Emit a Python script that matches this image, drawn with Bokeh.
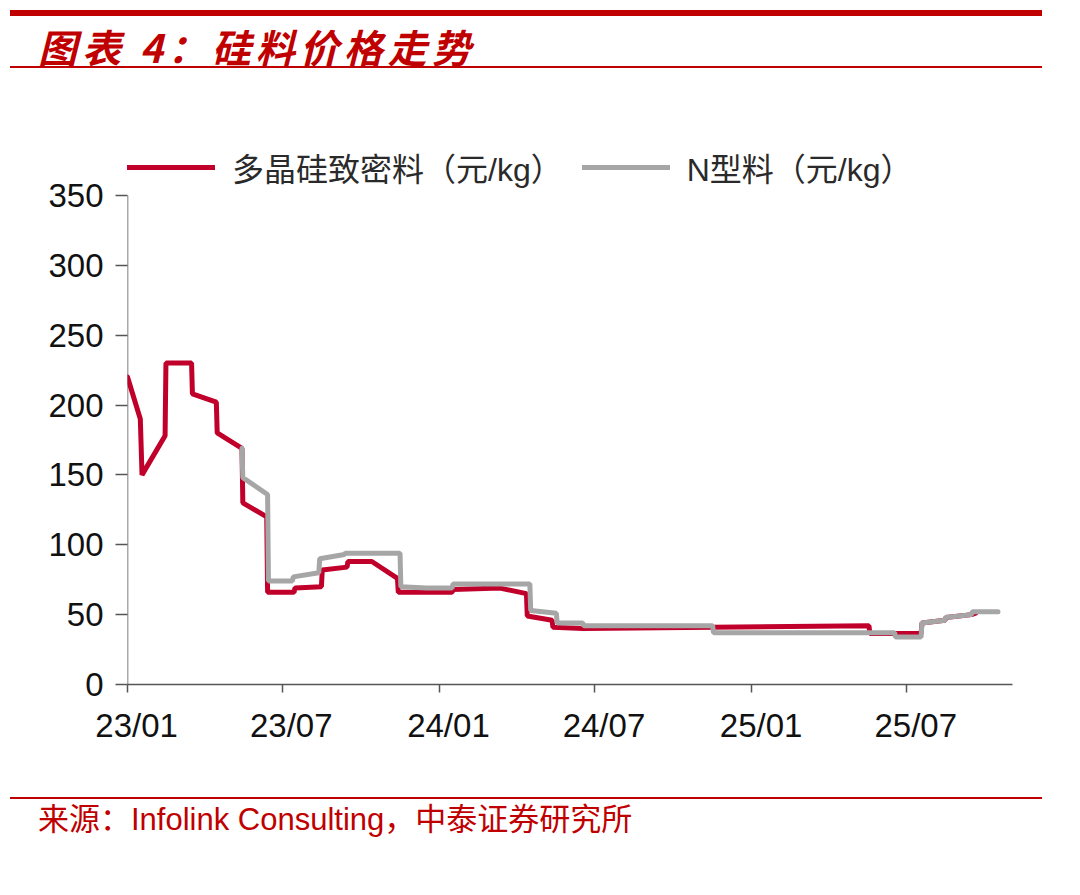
from datetime import datetime

import pandas as pd
from bokeh.embed import file_html
from bokeh.layouts import column
from bokeh.models import (ColumnDataSource, DatetimeTickFormatter, Div, FixedTicker,
                          Legend, LegendItem, Range1d)
from bokeh.plotting import figure
from bokeh.resources import INLINE

# 多晶硅致密料 (元/kg)
red_dates = ["2023-01-01", "2023-01-16", "2023-01-18", "2023-02-14", "2023-02-15",
             "2023-03-17", "2023-03-18", "2023-04-15", "2023-04-16", "2023-05-15",
             "2023-05-16", "2023-06-13", "2023-06-14", "2023-07-15", "2023-07-16",
             "2023-08-16", "2023-08-17", "2023-09-15", "2023-09-16", "2023-10-14",
             "2023-11-13", "2023-11-14", "2024-01-16", "2024-01-17", "2024-03-12",
             "2024-04-12", "2024-04-13", "2024-05-12", "2024-05-13", "2024-06-17",
             "2024-11-16", "2025-05-18", "2025-05-19", "2025-07-18", "2025-07-19",
             "2025-08-15", "2025-08-16", "2025-09-15", "2025-09-20"]
red_values = [220, 190, 150, 178, 230,
              230, 208, 202, 180, 169,
              130, 120, 66, 66, 69,
              70, 82, 84, 88, 88,
              76, 66, 66, 68, 69,
              65, 49, 46, 41, 40,
              41, 42, 36.5, 36.5, 44,
              46, 48, 50, 51]

# N型料 (元/kg)
gray_dates = ["2023-05-15", "2023-05-16", "2023-06-14", "2023-06-15", "2023-07-13",
              "2023-07-14", "2023-08-13", "2023-08-14", "2023-09-12", "2023-09-13",
              "2023-11-16", "2023-11-17", "2023-12-17", "2024-01-16", "2024-01-17",
              "2024-04-16", "2024-04-17", "2024-05-17", "2024-05-18", "2024-06-17",
              "2024-06-18", "2024-11-16", "2024-11-17", "2025-06-17", "2025-06-18",
              "2025-07-18", "2025-07-19", "2025-08-15", "2025-08-16", "2025-09-15",
              "2025-09-16", "2025-10-16"]
gray_values = [169, 148, 136, 74, 74,
               77, 80, 90, 93, 94,
               94, 70, 69, 69, 72,
               72, 53, 51, 44, 44,
               42, 42, 37, 37, 34,
               34, 44, 46, 48, 50,
               52, 52]

tick_dates = ["2023-01-01", "2023-07-01", "2024-01-01", "2024-07-01", "2025-01-01", "2025-07-01"]
y_ticks = [0, 50, 100, 150, 200, 250, 300, 350]

RED = "#c0002b"
GRAY = "#a6a6a6"
DARK_RED = "#c00000"
AXIS = "#555555"
LATIN = "Liberation Sans, Noto Sans CJK SC"

x_start = datetime(2023, 1, 1)
x_end = datetime(2025, 11, 2)

red_src = ColumnDataSource(dict(x=pd.to_datetime(red_dates), y=red_values))
gray_src = ColumnDataSource(dict(x=pd.to_datetime(gray_dates), y=gray_values))

# extra room above 350 holds the legend; the y axis line itself stops at 350
p = figure(frame_width=885, frame_height=545, x_axis_type="datetime",
           x_range=Range1d(x_start, x_end),
           y_range=Range1d(0, 390),
           output_backend="svg", toolbar_location=None,
           min_border_left=127, min_border_right=30,
           min_border_top=63, min_border_bottom=96)
p.background_fill_color = "white"
p.border_fill_color = "white"
p.outline_line_color = None
p.xgrid.visible = False
p.ygrid.visible = False

p.segment(x0=[x_start], y0=[0], x1=[x_start], y1=[y_ticks[-1]],
          line_color=AXIS, line_width=1.5)

r_red = p.line("x", "y", source=red_src, color=RED, line_width=5, line_cap="round")
r_gray = p.line("x", "y", source=gray_src, color=GRAY, line_width=5, line_cap="round")

ticks_ms = [pd.Timestamp(d).value // 10**6 for d in tick_dates]
p.xaxis.ticker = FixedTicker(ticks=ticks_ms)
# labels in the original sit a little right of their ticks
fmt = "\u00a0\u00a0%y/%m"
p.xaxis.formatter = DatetimeTickFormatter(
    microseconds=fmt, milliseconds=fmt, seconds=fmt, minsec=fmt, minutes=fmt,
    hourmin=fmt, hours=fmt, days=fmt, months=fmt, years=fmt)
p.yaxis.ticker = FixedTicker(ticks=y_ticks)

for ax in (p.xaxis, p.yaxis):
    ax.axis_line_color = AXIS
    ax.axis_line_width = 1.5
    ax.major_tick_line_color = AXIS
    ax.major_tick_line_width = 1.5
    ax.major_tick_in = 0
    ax.minor_tick_line_color = None
    ax.major_label_text_font = "Liberation Sans"
    ax.major_label_text_font_size = "33px"
    ax.major_label_text_color = "#111111"
p.yaxis.axis_line_color = None
p.yaxis.major_tick_out = 12
p.yaxis.major_label_standoff = 12
p.xaxis.major_tick_out = 8
p.xaxis.major_label_standoff = 14

legend = Legend(items=[LegendItem(label="多晶硅致密料（元/kg）", renderers=[r_red]),
                       LegendItem(label="N型料（元/kg）", renderers=[r_gray])],
                location="top_left", orientation="horizontal",
                glyph_width=88, glyph_height=56, label_height=56,
                label_standoff=17, spacing=19, padding=0, margin=0,
                border_line_color=None, background_fill_alpha=0,
                label_text_font=LATIN, label_text_font_size="32px",
                label_text_color="#2a2a2a")
p.add_layout(legend, "center")

header = Div(text=(
    '<div style="margin:10px 0 0 10px;width:1032px;height:58px;'
    'border-top:6px solid ' + DARK_RED + ';border-bottom:2px solid ' + DARK_RED + ';">'
    '<div style="padding-left:28px;line-height:60px;font-family:\'Noto Sans CJK SC\';'
    'font-size:39px;font-weight:bold;font-style:italic;letter-spacing:5px;color:' + DARK_RED + ';">'
    '图表 4：硅料价格走势</div></div>'),
    width=1042, height=76, margin=0)

footer = Div(text=(
    '<div style="margin:17px 0 0 10px;width:1032px;border-top:2px solid ' + DARK_RED + ';">'
    '<div style="padding-left:28px;line-height:42px;font-family:\'Liberation Sans\', \'Noto Sans CJK SC\';'
    'font-size:31px;color:' + DARK_RED + ';">'
    '来源：Infolink Consulting，中泰证券研究所</div></div>'),
    width=1042, height=100, margin=0)

layout = column(header, p, footer, spacing=0)

open("out.html", "w").write(file_html(layout, INLINE))
